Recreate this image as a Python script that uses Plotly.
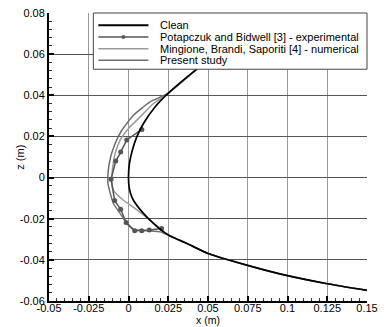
import plotly.graph_objects as go

# ---- data ----
clean_x = [0.06, 0.043, 0.025, 0.0167, 0.0094, 0.0052, 0.0024, 0.0006, 0.0, 0.0003, 0.0012, 0.0031,
           0.0094, 0.0157, 0.022, 0.0272, 0.0367, 0.05, 0.075, 0.1, 0.125, 0.15]
clean_z = [0.0625, 0.0527, 0.041, 0.0343, 0.0263, 0.0198, 0.0133, 0.0069, 0.0004, -0.004, -0.0075, -0.011,
           -0.0174, -0.0223, -0.0264, -0.0288, -0.032, -0.0369, -0.0427, -0.0477, -0.0516, -0.0548]

exp_x = [0.0084, -0.0011, -0.0049, -0.0080, -0.0110, -0.0087, -0.0049, -0.0015, 0.0039, 0.0083, 0.0131, 0.0208]
exp_z = [0.0234, 0.0183, 0.0124, 0.0080, -0.0008, -0.0112, -0.0154, -0.0218, -0.0258, -0.0258, -0.0255, -0.0248]

ming_x = [0.06, 0.043, 0.025, 0.0157, 0.0073, 0.0, -0.0053, -0.0084, -0.0099, -0.0105, -0.0095, -0.0032,
          0.0045, 0.0105, 0.0165, 0.022, 0.0272, 0.0367, 0.05, 0.075, 0.1, 0.125, 0.15]
ming_z = [0.0625, 0.0527, 0.041, 0.036, 0.0295, 0.0239, 0.0182, 0.0117, 0.0052, -0.0013, -0.0061, -0.0110,
          -0.0152, -0.0188, -0.0226, -0.0262, -0.0288, -0.032, -0.0369, -0.0427, -0.0477, -0.0516, -0.0548]

present_x = [0.06, 0.043, 0.025, 0.0136, 0.0031, -0.0042, -0.0084, -0.0112, -0.0127, -0.0129, -0.0120, -0.0095,
             -0.0053, -0.0011, 0.0031, 0.0115, 0.0199, 0.0272, 0.0367, 0.05, 0.075, 0.1, 0.125, 0.15]
present_z = [0.0625, 0.0527, 0.041, 0.0368, 0.0303, 0.0230, 0.0166, 0.0101, 0.0036, -0.0029, -0.0061, -0.0126,
             -0.0174, -0.0223, -0.0252, -0.0259, -0.0264, -0.0288, -0.032, -0.0369, -0.0427, -0.0477, -0.0516, -0.0548]

series_names = ["Clean",
                "Potapczuk and Bidwell [3] - experimental",
                "Mingione, Brandi, Saporiti [4] - numerical",
                "Present study"]

x_tick_vals = [-0.05, -0.025, 0, 0.025, 0.05, 0.075, 0.1, 0.125, 0.15]
x_tick_text = ["-0.05", "-0.025", "0", "0.025", "0.05", "0.075", "0.1", "0.125", "0.15"]
z_tick_vals = [-0.06, -0.04, -0.02, 0, 0.02, 0.04, 0.06, 0.08]
z_tick_text = ["-0.06", "-0.04", "-0.02", "0", "0.02", "0.04", "0.06", "0.08"]

x_title = "x (m)"
z_title = "z (m)"

# ---- styles ----
C_CLEAN = "#000000"
C_EXP = "#555555"
C_MING = "#9a9a9a"
C_PRES = "#6e6e6e"
FONT = "Liberation Sans, Arial, sans-serif"

fig = go.Figure()
fig.add_trace(go.Scatter(x=ming_x, y=ming_z, mode="lines", name=series_names[2],
                         line=dict(color=C_MING, width=1.5, shape="spline", smoothing=0.5)))
fig.add_trace(go.Scatter(x=present_x, y=present_z, mode="lines", name=series_names[3],
                         line=dict(color=C_PRES, width=1.5, shape="spline", smoothing=0.5)))
fig.add_trace(go.Scatter(x=exp_x, y=exp_z, mode="lines+markers", name=series_names[1],
                         line=dict(color=C_EXP, width=1.5),
                         marker=dict(color=C_EXP, size=5, symbol="circle")))
fig.add_trace(go.Scatter(x=clean_x, y=clean_z, mode="lines", name=series_names[0],
                         line=dict(color=C_CLEAN, width=1.7, shape="spline", smoothing=0.5)))

fig.update_layout(
    width=386, height=327,
    margin=dict(l=49, r=19, t=13, b=26, pad=0),
    paper_bgcolor="white", plot_bgcolor="white",
    showlegend=False,
    font=dict(family=FONT, size=11, color="black"),
)

fig.update_xaxes(
    automargin=False,
    range=[-0.05, 0.15], tickmode="array", tickvals=x_tick_vals, ticktext=x_tick_text,
    ticks="inside", ticklen=5, tickwidth=2, tickcolor="black", ticklabelstandoff=-4,
    showline=True, linecolor="black", linewidth=2, mirror=False,
    showgrid=True, gridcolor="#999999", gridwidth=1, zeroline=False,
    minor=dict(dtick=0.005, tick0=0, ticks="inside", ticklen=3, tickwidth=1, tickcolor="#333333", showgrid=False),
    tickfont=dict(size=11),
)
fig.update_yaxes(
    automargin=False,
    range=[-0.06, 0.08], tickmode="array", tickvals=z_tick_vals, ticktext=z_tick_text,
    ticks="inside", ticklen=5, tickwidth=2, tickcolor="black",
    showline=True, linecolor="black", linewidth=2, mirror=False,
    showgrid=True, gridcolor="#555555", gridwidth=1, zeroline=False,
    minor=dict(dtick=0.004, tick0=0, ticks="inside", ticklen=3, tickwidth=1, tickcolor="#333333", showgrid=False),
    tickfont=dict(size=11),
)

# ---- custom legend (box, sample lines, labels) in paper coordinates ----
L_X0, L_X1, L_Y0, L_Y1 = 0.1394, 1.0, 0.8047, 1.0
S_X0, S_X1, T_X = 0.1552, 0.3126, 0.344
rows = [0.9573, 0.9168, 0.8762, 0.8359]
row_colors = [C_CLEAN, C_EXP, C_MING, C_PRES]
row_widths = [2, 1.5, 1.5, 1.5]

shapes = [dict(type="rect", xref="paper", yref="paper", x0=L_X0, x1=L_X1, y0=L_Y0, y1=L_Y1,
               fillcolor="white", line=dict(color="#444444", width=1), layer="above")]
annotations = []
for name, yy, col, w in zip(series_names, rows, row_colors, row_widths):
    shapes.append(dict(type="line", xref="paper", yref="paper", x0=S_X0, x1=S_X1, y0=yy, y1=yy,
                       line=dict(color=col, width=w), layer="above"))
    annotations.append(dict(xref="paper", yref="paper", x=T_X, y=yy, text=name, showarrow=False,
                            xanchor="left", yanchor="middle", font=dict(family=FONT, size=11, color="black")))
mx = (S_X0 + S_X1) / 2
shapes.append(dict(type="circle", xref="paper", yref="paper", x0=mx - 0.006, x1=mx + 0.006,
                   y0=rows[1] - 0.0066, y1=rows[1] + 0.0066, fillcolor=C_EXP, line=dict(width=0), layer="above"))

# axis titles placed as annotations
annotations.append(dict(xref="paper", yref="paper", x=0.5, y=-0.0905, text=x_title, showarrow=False,
                        xanchor="center", yanchor="bottom", borderpad=0,
                        font=dict(family=FONT, size=10.5, color="black")))
annotations.append(dict(xref="paper", yref="paper", x=-0.092, y=0.5, text=z_title, showarrow=False,
                        textangle=-90, xanchor="center", yanchor="middle",
                        font=dict(family=FONT, size=11, color="black")))

fig.update_layout(shapes=shapes, annotations=annotations)

fig.write_html("out.html")
